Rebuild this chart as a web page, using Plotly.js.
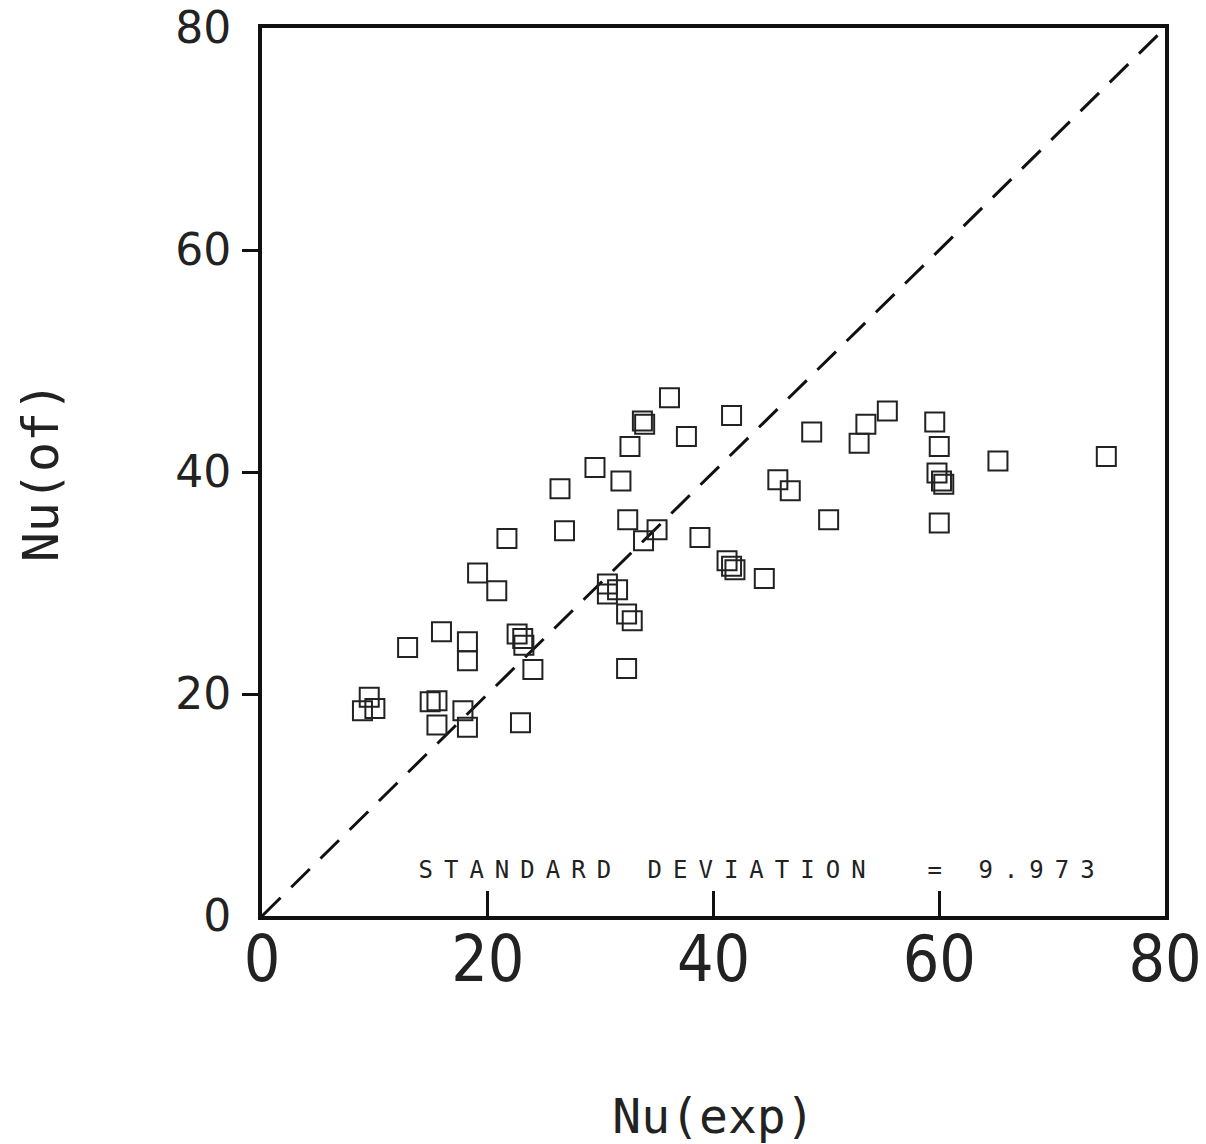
<!DOCTYPE html>
<html>
<head>
<meta charset="utf-8">
<script src="https://cdn.plot.ly/plotly-3.0.1.min.js"></script>
<style>
html,body{margin:0;padding:0;background:#fff;}
#chart{width:1206px;height:1144px;}
</style>
</head>
<body>
<div id="chart"></div>
<script>
// Nu(exp) values (x) and Nu(of) values (y)
const nuExp = [
  9.5, 8.9, 10.0, 12.9, 15.9, 18.2, 18.2, 22.6, 23.1, 23.2, 24.0, 14.9, 15.5, 15.5, 17.8, 18.2, 22.9,
  36.1, 33.7, 33.9, 37.6, 32.6, 29.5, 31.8, 26.4, 21.7, 26.8, 32.4, 35.0, 33.8, 38.8, 19.1, 20.8,
  41.2, 41.6, 41.9, 30.6, 31.5, 30.6, 32.3, 32.8, 32.3,
  41.6, 48.7, 53.5, 55.4, 52.9, 45.7, 46.8, 50.2, 44.5,
  59.6, 60.0, 59.8, 60.2, 60.4, 60.0, 65.2, 74.8
];
const nuOf = [
  19.7, 18.5, 18.7, 24.2, 25.6, 24.7, 23.0, 25.4, 25.0, 24.4, 22.2, 19.3, 19.4, 17.2, 18.5, 17.0, 17.4,
  46.7, 44.6, 44.3, 43.2, 42.3, 40.4, 39.2, 38.5, 34.0, 34.7, 35.7, 34.8, 33.8, 34.1, 30.9, 29.3,
  32.0, 31.5, 31.2, 29.9, 29.4, 29.0, 27.2, 26.6, 22.3,
  45.1, 43.6, 44.3, 45.5, 42.6, 39.3, 38.3, 35.7, 30.4,
  44.5, 42.3, 39.9, 39.2, 38.9, 35.4, 41.0, 41.4
];
// line of perfect agreement
const diagX = [0, 80];
const diagY = [0, 80];
const tickVals = [0, 20, 40, 60, 80];
const tickText = ['0', '20', '40', '60', '80'];
const innerTicks = [20, 40, 60];
const stdText = 'STANDARD DEVIATION\u00a0\u00a0= 9.973';

const traces = [
  {
    x: diagX, y: diagY, mode: 'lines', type: 'scatter',
    line: {color: '#111', width: 3, dash: '26px,15px'},
    hoverinfo: 'skip', showlegend: false
  },
  {
    x: nuExp, y: nuOf, mode: 'markers', type: 'scatter',
    marker: {symbol: 'square-open', size: 19, color: '#222', line: {color: '#222', width: 2}},
    showlegend: false
  }
];

const layout = {
  width: 1206, height: 1144,
  margin: {l: 262, r: 41, t: 28, b: 228, pad: 0},
  paper_bgcolor: '#fff', plot_bgcolor: '#fff',
  showlegend: false,
  xaxis: {
    range: [0, 80], tickmode: 'array', tickvals: tickVals, ticktext: tickText,
    ticks: '', showgrid: false, zeroline: false,
    showline: true, linecolor: '#111', linewidth: 4, mirror: true,
    tickfont: {family: 'Liberation Sans Narrow, DejaVu Sans Condensed, Liberation Sans, sans-serif', size: 64, color: '#222'},
    ticklabelstandoff: -16, ticklabeloverflow: 'allow',
    minor: {tickmode: 'array', tickvals: innerTicks, ticks: 'inside', ticklen: 25, tickwidth: 3, tickcolor: '#111', showgrid: false},
    title: {text: 'Nu(exp)', standoff: 126, font: {family: 'DejaVu Sans Mono, monospace', size: 48, color: '#222'}}
  },
  yaxis: {
    range: [0, 80], tickmode: 'array', tickvals: tickVals, ticktext: tickText,
    ticks: '', showgrid: false, zeroline: false,
    showline: true, linecolor: '#111', linewidth: 4, mirror: true,
    tickfont: {family: 'DejaVu Sans, sans-serif', size: 44, color: '#222'},
    ticklabelstandoff: 18, ticklabeloverflow: 'allow',
    minor: {tickmode: 'array', tickvals: innerTicks, ticks: 'outside', ticklen: 16, tickwidth: 3, tickcolor: '#111', showgrid: false},
    title: {text: 'Nu(of)', standoff: 102, font: {family: 'DejaVu Sans Mono, monospace', size: 50, color: '#222'}}
  },
  annotations: [
    {
      text: stdText, x: 44.3, y: 4.1, xref: 'x', yref: 'y',
      xanchor: 'center', yanchor: 'middle', showarrow: false,
      font: {family: 'DejaVu Sans Mono, monospace', size: 24, color: '#222'}
    }
  ]
};

Plotly.newPlot('chart', traces, layout, {displayModeBar: false, staticPlot: true}).then(function () {
  document.querySelectorAll('.annotation-text').forEach(function (t) {
    t.style.letterSpacing = '11px';
  });
});
</script>
</body>
</html>
